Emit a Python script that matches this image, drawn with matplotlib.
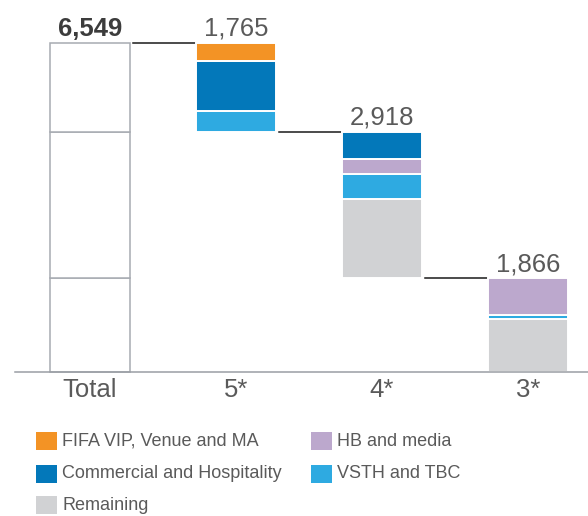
import matplotlib
matplotlib.use("Agg")
import matplotlib.pyplot as plt
from matplotlib.patches import Rectangle

plt.rcParams['font.family'] = ['Liberation Sans', 'DejaVu Sans']

# ---- data ----
total_label = "Total"
total_value = 6549
categories = ["5*", "4*", "3*"]
step_totals = [1765, 2918, 1866]

series_names = ["Remaining", "VSTH and TBC", "HB and media",
                "Commercial and Hospitality", "FIFA VIP, Venue and MA"]
remaining = [0, 1568, 1046]
vsth_tbc = [420, 500, 90]
hb_media = [0, 310, 730]
commercial = [990, 540, 0]
fifa_vip = [355, 0, 0]

colors = {
    "FIFA VIP, Venue and MA": "#F39325",
    "Commercial and Hospitality": "#0378BA",
    "HB and media": "#BCA8CD",
    "VSTH and TBC": "#2EAAE1",
    "Remaining": "#D1D2D4",
}
series_values = [remaining, vsth_tbc, hb_media, commercial, fifa_vip]

# ---- figure ----
W, H, DPI = 588, 516, 100
fig = plt.figure(figsize=(W / DPI, H / DPI), dpi=DPI)
ax = fig.add_axes([0, 0, 1, 1])
ax.set_xlim(-0.616, 3.411)
ax.set_ylim(-2866, 7405)
ax.axis("off")

bw = 0.545
text_dark = "#3c3c3c"
text_mid = "#5a5a5a"

# total bar, outlined and split into the three step sizes
base = 0
for seg in reversed(step_totals):
    ax.bar(0, seg, bottom=base, width=bw, color="white",
           edgecolor="#A7ABB1", linewidth=1.1, zorder=2)
    base += seg
ax.text(0, total_value + 40, f"{total_value:,}", ha="center", va="bottom",
        fontsize=18.5, fontweight="bold", color=text_dark)
ax.text(0, -358, total_label, ha="center", va="center",
        fontsize=18.5, color=text_mid)

# waterfall steps
top = total_value
for i, cat in enumerate(categories):
    x = i + 1
    bottom = top - step_totals[i]
    b = bottom
    for name, vals in zip(series_names, series_values):
        v = vals[i]
        if v > 0:
            ax.bar(x, v, bottom=b, width=bw, color=colors[name],
                   edgecolor="white", linewidth=1.4, zorder=2)
            b += v
    # connector from previous bar
    ax.plot([x - 1 + bw / 2 + 0.02, x - bw / 2 - 0.01], [top, top],
            color="#1a1a1a", linewidth=1.1, zorder=1)
    ax.text(x, top + 40, f"{step_totals[i]:,}", ha="center", va="bottom",
            fontsize=18.5, color=text_mid)
    ax.text(x, -358, cat, ha="center", va="center",
            fontsize=18.5, color=text_mid)
    top = bottom

# baseline
ax.plot([-0.514, 3.411], [0, 0], color="#9a9ea4", linewidth=1.1, zorder=3)

# legend
legend_items = [
    ("FIFA VIP, Venue and MA", 36, 441),
    ("Commercial and Hospitality", 36, 474),
    ("Remaining", 36, 505),
    ("HB and media", 311, 441),
    ("VSTH and TBC", 311, 474),
]
for name, px, py in legend_items:
    fig.patches.append(Rectangle((px / W, 1 - (py + 9) / H), 21 / W, 18 / H,
                                 transform=fig.transFigure,
                                 facecolor=colors[name], edgecolor="none"))
    fig.text((px + 26) / W, 1 - py / H, name, ha="left", va="center",
             fontsize=13, color=text_mid)

fig.savefig("out.png", dpi=DPI)
